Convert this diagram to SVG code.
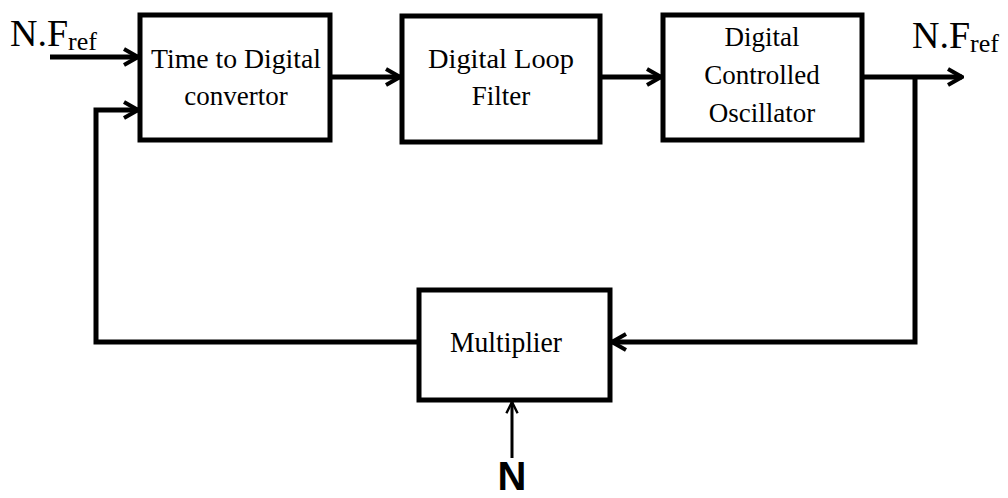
<svg xmlns="http://www.w3.org/2000/svg" width="1008" height="498" viewBox="0 0 1008 498">
<style>
.box{fill:#fff;stroke:#000;stroke-width:5}
.ln{fill:none;stroke:#000;stroke-width:5}
.t{font-family:'Liberation Serif','Times New Roman',Tinos,Times,serif;font-size:27px;text-anchor:middle;fill:#000}
.big{font-size:30px}
.lbl{font-family:'Liberation Serif','Times New Roman',Tinos,Times,serif;font-size:38px;fill:#000}
.sub{font-size:26px}
</style>
<defs>
<marker id="ah" viewBox="0 0 20 20" refX="18" refY="10" markerWidth="20" markerHeight="20" markerUnits="userSpaceOnUse" orient="auto">
<path d="M4,2 L18,10 L4,18" fill="none" stroke="#000" stroke-width="4"/>
</marker>
<marker id="ahs" viewBox="0 0 20 20" refX="18" refY="10" markerWidth="16" markerHeight="16" markerUnits="userSpaceOnUse" orient="auto">
<path d="M4,3 L18,10 L4,17" fill="none" stroke="#000" stroke-width="3"/>
</marker>
</defs>
<g id="connectors">
<line class="ln" x1="50" y1="57" x2="138" y2="57" marker-end="url(#ah)"/>
<polyline class="ln" points="418,342 96,342 96,110 138,110" marker-end="url(#ah)"/>
<line class="ln" x1="330" y1="77" x2="400" y2="77" marker-end="url(#ah)"/>
<line class="ln" x1="600" y1="77" x2="661" y2="77" marker-end="url(#ah)"/>
<line class="ln" x1="862" y1="77" x2="962" y2="77" marker-end="url(#ah)"/>
<polyline class="ln" points="915,77 915,342 612,342" marker-end="url(#ah)"/>
<line x1="512" y1="458" x2="512" y2="402" stroke="#000" stroke-width="3" marker-end="url(#ahs)"/>
</g>
<g id="tdc">
<rect class="box" x="140" y="15" width="190" height="125"/>
<text class="t" x="236" y="68" textLength="170" lengthAdjust="spacingAndGlyphs">Time to Digital</text>
<text class="t" x="236" y="105">convertor</text>
</g>
<g id="dlf">
<rect class="box" x="402" y="16" width="198" height="126"/>
<text class="t" x="501" y="68" textLength="146" lengthAdjust="spacingAndGlyphs">Digital Loop</text>
<text class="t" x="501" y="105">Filter</text>
</g>
<g id="dco">
<rect class="box" x="663" y="15" width="199" height="125"/>
<text class="t" x="762" y="46">Digital</text>
<text class="t" x="762" y="84">Controlled</text>
<text class="t" x="762" y="122">Oscillator</text>
</g>
<g id="mult">
<rect class="box" x="419" y="290" width="191" height="110"/>
<text class="t big" x="506" y="352" textLength="112" lengthAdjust="spacingAndGlyphs">Multiplier</text>
</g>
<g id="labels">
<text class="lbl" x="10" y="46">N.F<tspan class="sub" dy="4">ref</tspan></text>
<text class="lbl" x="912" y="48">N.F<tspan class="sub" dy="4">ref</tspan></text>
<text x="512" y="490" font-family="'Liberation Sans',Arial,sans-serif" font-weight="bold" font-size="40" text-anchor="middle">N</text>
</g>
</svg>
